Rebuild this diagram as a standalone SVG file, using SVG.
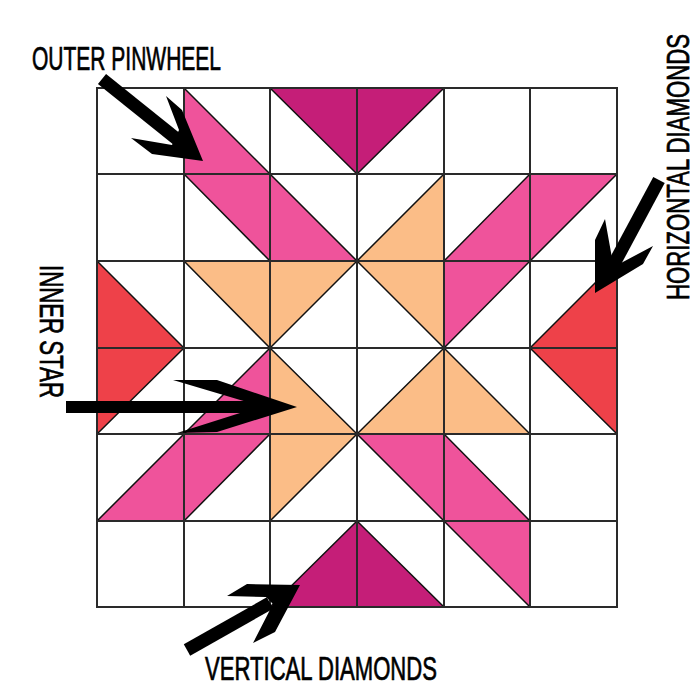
<svg xmlns="http://www.w3.org/2000/svg" width="700" height="700" viewBox="0 0 700 700">
<style>
.P{fill:#EF539B;stroke:#111;stroke-width:1.5;stroke-linejoin:round}
.M{fill:#C51E78;stroke:#111;stroke-width:1.5;stroke-linejoin:round}
.O{fill:#FBBD87;stroke:#111;stroke-width:1.5;stroke-linejoin:round}
.R{fill:#EE4149;stroke:#111;stroke-width:1.5;stroke-linejoin:round}
.grid{fill:none;stroke:#2a2a2a;stroke-width:2}
.shaft{stroke:#000;stroke-width:13;fill:none}
.head{fill:#000}
.lbl{font-family:"Liberation Sans Narrow","Liberation Sans",sans-serif;font-size:33px;fill:#000;stroke:#000;stroke-width:0.7}
</style>
<rect width="700" height="700" fill="#fff"/>
<g id="quilt">
<g id="r0">
<polygon class="P" points="184,88 184,174 270,174"/>
<polygon class="M" points="270,88 357,88 357,174"/>
<polygon class="M" points="357,88 444,88 357,174"/>
</g>
<g id="r1">
<polygon class="P" points="184,174 270,174 270,261"/>
<polygon class="P" points="270,174 270,261 357,261"/>
<polygon class="O" points="444,174 444,261 357,261"/>
<polygon class="P" points="530,174 530,261 444,261"/>
<polygon class="P" points="530,174 617,174 530,261"/>
</g>
<g id="r2">
<polygon class="R" points="97,261 97,348 184,348"/>
<polygon class="O" points="184,261 270,261 270,348"/>
<polygon class="O" points="270,261 357,261 270,348"/>
<polygon class="O" points="357,261 444,261 444,348"/>
<polygon class="P" points="444,261 530,261 444,348"/>
<polygon class="R" points="617,261 617,348 530,348"/>
</g>
<g id="r3">
<polygon class="R" points="97,348 184,348 97,434"/>
<polygon class="P" points="270,348 270,434 184,434"/>
<polygon class="O" points="270,348 270,434 357,434"/>
<polygon class="O" points="444,348 444,434 357,434"/>
<polygon class="O" points="444,348 444,434 530,434"/>
<polygon class="R" points="530,348 617,348 617,434"/>
</g>
<g id="r4">
<polygon class="P" points="184,434 184,521 97,521"/>
<polygon class="P" points="184,434 270,434 184,521"/>
<polygon class="O" points="270,434 357,434 270,521"/>
<polygon class="P" points="357,434 444,434 444,521"/>
<polygon class="P" points="444,434 444,521 530,521"/>
</g>
<g id="r5">
<polygon class="M" points="357,521 357,607 270,607"/>
<polygon class="M" points="357,521 357,607 444,607"/>
<polygon class="P" points="444,521 530,521 530,607"/>
</g>
<path class="grid" d="M97,88H617V607H97Z M184,88V607 M270,88V607 M357,88V607 M444,88V607 M530,88V607 M97,174H617 M97,261H617 M97,348H617 M97,434H617 M97,521H617"/>
</g>
<g id="connectors">
<g id="arrow-outer">
<line class="shaft" x1="102" y1="79" x2="178" y2="140"/>
<polygon class="head" points="166,96 182,110 203,161 152,154 131,138 172,145 179,130"/>
</g>
<g id="arrow-horizontal">
<line class="shaft" x1="659" y1="180" x2="615" y2="262"/>
<polygon class="head" points="605,219 595,240 595,293 643,264 653,246 621,263 612,258"/>
</g>
<g id="arrow-inner">
<line x1="66" y1="407" x2="248" y2="407" stroke="#000" stroke-width="12"/>
<polygon class="head" points="173,380 217,380 297,407 217,432 177,433 240,413 247,402"/>
</g>
<g id="arrow-vertical">
<line class="shaft" x1="187" y1="650" x2="270" y2="603"/>
<polygon class="head" points="247,584 300,585 275,632 253,643 273,604 266,597 227,596"/>
</g>
</g>
<g id="labels">
<text class="lbl" x="32" y="70" textLength="189" lengthAdjust="spacingAndGlyphs">OUTER PINWHEEL</text>
<text class="lbl" x="205" y="680" textLength="232" lengthAdjust="spacingAndGlyphs">VERTICAL DIAMONDS</text>
<text class="lbl" transform="translate(689,300) rotate(-90)" textLength="266" lengthAdjust="spacingAndGlyphs" style="font-size:32px">HORIZONTAL DIAMONDS</text>
<text class="lbl" transform="translate(40,265) rotate(90)" textLength="133" lengthAdjust="spacingAndGlyphs">INNER STAR</text>
</g>
</svg>
